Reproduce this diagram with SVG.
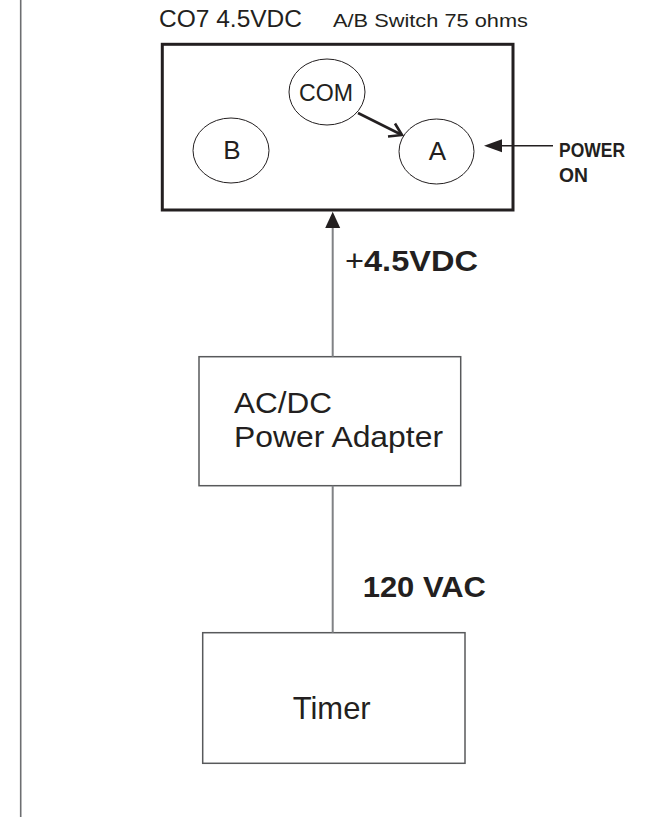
<svg xmlns="http://www.w3.org/2000/svg" width="658" height="818" viewBox="0 0 658 818">
<style>
text{font-family:"Liberation Sans",Arial,sans-serif;fill:#231f20}
.b{font-weight:bold}
.port{fill:#fff;stroke:#231f20;stroke-width:1}
.box{fill:#fff;stroke:#58595b;stroke-width:1.5}
.wire{stroke:#808285;stroke-width:2;fill:none}
</style>
<line x1="20.7" y1="0" x2="20.7" y2="817" stroke="#6d6e71" stroke-width="1.6"/>
<text x="159" y="27" font-size="23" textLength="143" lengthAdjust="spacingAndGlyphs">CO7 4.5VDC</text>
<text x="333" y="27" font-size="19" textLength="195" lengthAdjust="spacingAndGlyphs">A/B Switch 75 ohms</text>
<g id="switch">
<rect x="162.3" y="44.3" width="350.7" height="165.7" fill="#fff" stroke="#231f20" stroke-width="3"/>
</g>
<g id="com">
<ellipse class="port" cx="327" cy="92" rx="38" ry="33"/>
<text x="326" y="100.5" font-size="23" text-anchor="middle" textLength="54" lengthAdjust="spacingAndGlyphs">COM</text>
</g>
<g id="portB">
<ellipse class="port" cx="231" cy="150.5" rx="38" ry="32.5"/>
<text x="232" y="158.5" font-size="26" text-anchor="middle">B</text>
</g>
<g id="portA">
<ellipse class="port" cx="436.5" cy="151.5" rx="37.5" ry="32.5"/>
<text x="437.5" y="159.5" font-size="26" text-anchor="middle">A</text>
</g>
<g id="power-label">
<text class="b" x="559" y="157" font-size="19.5" textLength="66" lengthAdjust="spacingAndGlyphs">POWER</text>
<text class="b" x="559" y="182" font-size="19.5" textLength="29" lengthAdjust="spacingAndGlyphs">ON</text>
</g>
<g id="adapter">
<rect class="box" x="199" y="356.7" width="261.7" height="129"/>
<text x="234" y="413" font-size="29" textLength="98" lengthAdjust="spacingAndGlyphs">AC/DC</text>
<text x="234" y="447" font-size="29" textLength="209" lengthAdjust="spacingAndGlyphs">Power Adapter</text>
</g>
<g id="timer">
<rect class="box" x="202.7" y="632.7" width="262.3" height="130.6"/>
<text x="292.7" y="719" font-size="32" textLength="78" lengthAdjust="spacingAndGlyphs">Timer</text>
</g>
<g id="connectors">
<line x1="358" y1="113" x2="401" y2="134.5" stroke="#231f20" stroke-width="2.6"/>
<path d="M388,136.5 L402,135 L395,123.5" fill="none" stroke="#231f20" stroke-width="2.6" stroke-linejoin="miter"/>
<line x1="553" y1="145.7" x2="500" y2="145.7" stroke="#231f20" stroke-width="1.5"/>
<path d="M484,145.7 L502,139.2 L502,152.2 z" fill="#231f20"/>
<line class="wire" x1="332.7" y1="356.7" x2="332.7" y2="226"/>
<path d="M332.7,211.7 L340.2,228 L325.2,228 z" fill="#231f20"/>
<line class="wire" x1="332.7" y1="485.7" x2="332.7" y2="632.7"/>
</g>
<g id="labels">
<text x="345" y="271" font-size="29" textLength="133" lengthAdjust="spacingAndGlyphs"><tspan>+</tspan><tspan class="b">4.5VDC</tspan></text>
<text class="b" x="362.7" y="597.3" font-size="29" textLength="123.3" lengthAdjust="spacingAndGlyphs">120 VAC</text>
</g>
</svg>
